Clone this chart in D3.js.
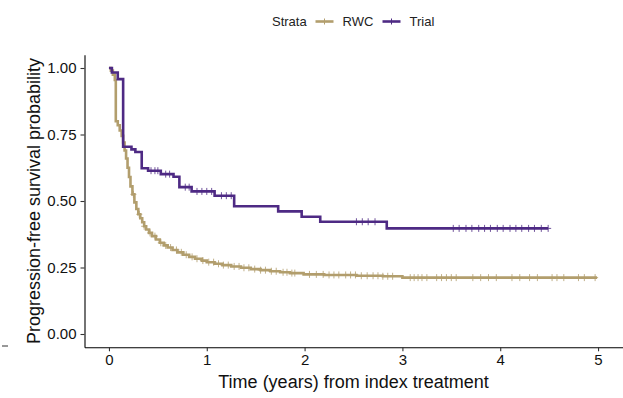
<!DOCTYPE html>
<html>
<head>
<meta charset="utf-8">
<script src="https://cdn.jsdelivr.net/npm/d3@7"></script>
<style>
  body { margin: 0; background: #fff; }
  text { font-family: "Liberation Sans", Arial, sans-serif; }
</style>
</head>
<body>
<svg id="chart" width="623" height="398"></svg>
<script>
// --- data ---
const strata = ["RWC", "Trial"];
const strataColors = ["#B29E6D", "#4E2A84"];

// RWC: step times (years) and survival after each step
const rwcTime = [0, 0.02, 0.04, 0.06, 0.07, 0.09, 0.11, 0.13, 0.145, 0.16, 0.175, 0.19, 0.205, 0.22, 0.24, 0.26, 0.28, 0.30, 0.32, 0.34, 0.36, 0.38, 0.41, 0.44, 0.48, 0.52, 0.56, 0.60, 0.65, 0.70, 0.76, 0.82, 0.88, 0.95, 1.00, 1.08, 1.16, 1.25, 1.35, 1.45, 1.55, 1.65, 1.75, 1.85, 1.99, 2.20, 2.53, 2.80, 3.00];
const rwcSurv = [1.000, 0.990, 0.975, 0.955, 0.800, 0.785, 0.765, 0.745, 0.720, 0.690, 0.660, 0.625, 0.590, 0.555, 0.525, 0.495, 0.470, 0.450, 0.435, 0.420, 0.405, 0.393, 0.380, 0.368, 0.355, 0.343, 0.333, 0.325, 0.316, 0.307, 0.298, 0.290, 0.283, 0.276, 0.270, 0.264, 0.259, 0.254, 0.249, 0.244, 0.240, 0.236, 0.232, 0.229, 0.224, 0.222, 0.219, 0.217, 0.212];
const rwcEnd = 4.99;
const rwcCensor = [0.25, 0.31, 0.36, 0.42, 0.47, 0.53, 0.58, 0.63, 0.69, 0.74, 0.79, 0.85, 0.90, 0.96, 1.02, 1.07, 1.12, 1.17, 1.22, 1.28, 1.33, 1.38, 1.43, 1.49, 1.55, 1.60, 1.66, 1.71, 1.78, 1.82, 1.87, 1.90, 2.05, 2.12, 2.19, 2.25, 2.30, 2.35, 2.42, 2.47, 2.52, 2.58, 2.64, 2.70, 2.75, 2.80, 2.85, 2.90, 3.08, 3.12, 3.16, 3.20, 3.25, 3.35, 3.40, 3.45, 3.50, 3.55, 3.72, 3.80, 3.88, 3.96, 4.12, 4.20, 4.30, 4.38, 4.53, 4.58, 4.65, 4.80, 4.86, 4.97];

// Trial
const trialTime = [0, 0.03, 0.09, 0.145, 0.23, 0.27, 0.335, 0.40, 0.53, 0.66, 0.72, 0.845, 1.08, 1.28, 1.73, 1.97, 2.16, 2.84];
const trialSurv = [1.000, 0.983, 0.958, 0.704, 0.694, 0.684, 0.623, 0.614, 0.601, 0.591, 0.552, 0.536, 0.520, 0.480, 0.461, 0.441, 0.422, 0.397];
const trialEnd = 4.49;
const trialCensor = [0.43, 0.47, 0.50, 0.58, 0.62, 0.78, 0.82, 0.90, 0.95, 1.00, 1.05, 1.15, 1.20, 1.25, 2.53, 2.59, 2.65, 2.72, 3.52, 3.58, 3.65, 3.71, 3.78, 3.84, 3.90, 3.97, 4.03, 4.10, 4.16, 4.22, 4.29, 4.35, 4.42, 4.49];

const xTicks = [0, 1, 2, 3, 4, 5];
const yTicks = [0, 0.25, 0.5, 0.75, 1];
const xTitle = "Time (years) from index treatment";
const yTitle = "Progression-free survival probability";
const legendTitle = "Strata";

// --- layout ---
const svg = d3.select("#chart");
const x = d3.scaleLinear().domain([-0.25, 5.25]).range([84.5, 622.5]);
const y = d3.scaleLinear().domain([-0.05, 1.05]).range([347.3, 54.7]);

// axes
const xAxis = svg.append("g")
  .attr("transform", `translate(0,${y(-0.05)})`)
  .call(d3.axisBottom(x).tickValues(xTicks).tickFormat(d3.format("d")).tickSize(4).tickSizeOuter(0).tickPadding(3));
const yAxis = svg.append("g")
  .attr("transform", `translate(${x(-0.25)},0)`)
  .call(d3.axisLeft(y).tickValues(yTicks).tickFormat(d3.format(".2f")).tickSize(4).tickSizeOuter(0).tickPadding(4));

[xAxis, yAxis].forEach(g => {
  g.select(".domain").attr("stroke", "#000").attr("stroke-width", 1.1);
  g.selectAll(".tick line").attr("stroke", "#333").attr("stroke-width", 1.1);
  g.selectAll(".tick text").attr("fill", "#111").style("font-size", "15px");
});

// axis titles
svg.append("text")
  .attr("x", x(2.5)).attr("y", 388)
  .attr("text-anchor", "middle").attr("fill", "#111")
  .style("font-size", "18px").text(xTitle);
svg.append("text")
  .attr("transform", `translate(39.5,${y(0.5)}) rotate(-90)`)
  .attr("text-anchor", "middle").attr("fill", "#111")
  .style("font-size", "18px").text(yTitle);

// small stray dash at the far left of the reference
svg.append("line").attr("x1", 2).attr("x2", 8).attr("y1", 346).attr("y2", 346)
  .attr("stroke", "#333").attr("stroke-width", 1);

// --- curves ---
const series = [
  { name: strata[0], color: strataColors[0], t: rwcTime, s: rwcSurv, end: rwcEnd, cens: rwcCensor },
  { name: strata[1], color: strataColors[1], t: trialTime, s: trialSurv, end: trialEnd, cens: trialCensor }
];

const line = d3.line().x(d => x(d[0])).y(d => y(d[1])).curve(d3.curveStepAfter);

function survAt(sr, tt) {
  const i = d3.bisectRight(sr.t, tt) - 1;
  return sr.s[Math.max(0, i)];
}

series.forEach(sr => {
  const pts = sr.t.map((t, i) => [t, sr.s[i]]);
  pts.push([sr.end, sr.s[sr.s.length - 1]]);
  const g = svg.append("g");
  g.append("path")
    .attr("d", line(pts))
    .attr("fill", "none")
    .attr("stroke", sr.color)
    .attr("stroke-width", 2.6)
    .attr("stroke-linejoin", "miter");
  g.selectAll(".cens").data(sr.cens).join("path")
    .attr("class", "cens")
    .attr("d", d => {
      const cx = x(d), cy = y(survAt(sr, d));
      return `M${cx - 3},${cy}H${cx + 3}M${cx},${cy - 3.5}V${cy + 3.5}`;
    })
    .attr("stroke", sr.color)
    .attr("stroke-width", 1)
    .attr("opacity", 0.8);
});

// --- legend ---
const lg = svg.append("g").attr("transform", "translate(0,26)");
lg.append("text").attr("x", 272).attr("y", 0).attr("fill", "#222")
  .style("font-size", "13px").text(legendTitle);
const keyX = [315.5, 382.5];
series.forEach((sr, i) => {
  const kx = keyX[i];
  lg.append("line").attr("x1", kx).attr("x2", kx + 18).attr("y1", -4.5).attr("y2", -4.5)
    .attr("stroke", sr.color).attr("stroke-width", 2.6);
  lg.append("path").attr("d", `M${kx + 9},${-7.5}V${-1.5}`)
    .attr("stroke", sr.color).attr("stroke-width", 1);
  lg.append("text").attr("x", kx + 27).attr("y", 0).attr("fill", "#222")
    .style("font-size", "13px").text(sr.name);
});
</script>
</body>
</html>
